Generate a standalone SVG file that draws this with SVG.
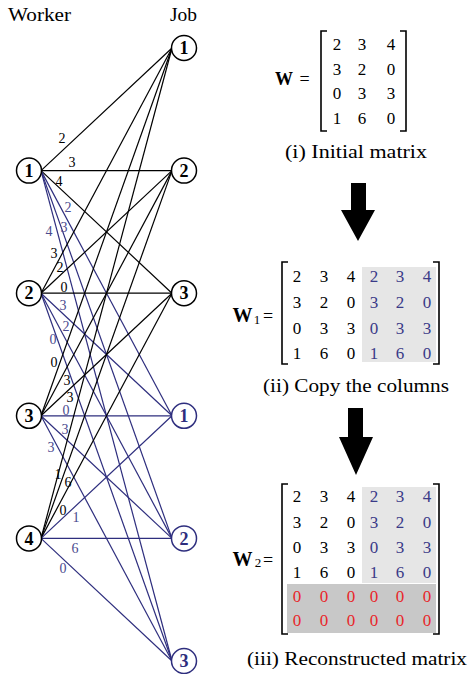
<svg xmlns="http://www.w3.org/2000/svg" width="469" height="674" viewBox="0 0 469 674" font-family="'Liberation Serif', 'DejaVu Serif', serif">
<style>
svg text{font-family:'Liberation Serif','DejaVu Serif',serif}
.hd{font-size:19px;fill:#000}
.nd{fill:#fff;stroke:#000;stroke-width:1.5}
.ndb{fill:#fff;stroke:#2e2e7e;stroke-width:1.5}
.nt{font-size:18px;font-weight:bold;text-anchor:middle;fill:#000}
.ntb{font-size:18px;font-weight:bold;text-anchor:middle;fill:#2e2e7e}
.e{stroke:#000;stroke-width:1.2;fill:none}
.eb{stroke:#2e2e7e;stroke-width:1.2;fill:none}
.lb{font-size:14px;text-anchor:middle;fill:#000}
.lbb{font-size:14px;text-anchor:middle;fill:#4a4a8e}
.m{font-size:17px;text-anchor:middle;fill:#000}
.mb{font-size:17px;text-anchor:middle;fill:#3a3a88}
.mr{font-size:17px;text-anchor:middle;fill:#e8262a}
.br{fill:none;stroke:#000;stroke-width:1.6}
.cap{font-size:18px;fill:#000}
.wb{font-weight:bold;fill:#000}
</style>

<text class="hd" x="8" y="21" textLength="63" lengthAdjust="spacingAndGlyphs">Worker</text>
<text class="hd" x="170" y="21" textLength="27" lengthAdjust="spacingAndGlyphs">Job</text>

<g id="connectors">
<line class="e" x1="41" y1="170.6" x2="172" y2="48"/>
<line class="e" x1="41" y1="170.6" x2="172" y2="170.6"/>
<line class="e" x1="41" y1="170.6" x2="172" y2="293.2"/>
<line class="eb" x1="41" y1="170.6" x2="172" y2="415.8"/>
<line class="eb" x1="41" y1="170.6" x2="172" y2="538.4"/>
<line class="eb" x1="41" y1="170.6" x2="172" y2="661"/>
<line class="e" x1="41" y1="293.2" x2="172" y2="48"/>
<line class="e" x1="41" y1="293.2" x2="172" y2="170.6"/>
<line class="e" x1="41" y1="293.2" x2="172" y2="293.2"/>
<line class="eb" x1="41" y1="293.2" x2="172" y2="415.8"/>
<line class="eb" x1="41" y1="293.2" x2="172" y2="538.4"/>
<line class="eb" x1="41" y1="293.2" x2="172" y2="661"/>
<line class="e" x1="41" y1="415.8" x2="172" y2="48"/>
<line class="e" x1="41" y1="415.8" x2="172" y2="170.6"/>
<line class="e" x1="41" y1="415.8" x2="172" y2="293.2"/>
<line class="eb" x1="41" y1="415.8" x2="172" y2="415.8"/>
<line class="eb" x1="41" y1="415.8" x2="172" y2="538.4"/>
<line class="eb" x1="41" y1="415.8" x2="172" y2="661"/>
<line class="e" x1="41" y1="538.4" x2="172" y2="48"/>
<line class="e" x1="41" y1="538.4" x2="172" y2="170.6"/>
<line class="e" x1="41" y1="538.4" x2="172" y2="293.2"/>
<line class="eb" x1="41" y1="538.4" x2="172" y2="415.8"/>
<line class="eb" x1="41" y1="538.4" x2="172" y2="538.4"/>
<line class="eb" x1="41" y1="538.4" x2="172" y2="661"/>
<text class="lb" x="62" y="143">2</text>
<text class="lb" x="72" y="167">3</text>
<text class="lb" x="59" y="186">4</text>
<text class="lbb" x="68" y="212">2</text>
<text class="lbb" x="64" y="232">3</text>
<text class="lbb" x="49" y="236">4</text>
<text class="lb" x="54" y="258">3</text>
<text class="lb" x="60" y="272">2</text>
<text class="lb" x="64" y="292">0</text>
<text class="lbb" x="63" y="310">3</text>
<text class="lbb" x="66" y="331">2</text>
<text class="lbb" x="53" y="344">0</text>
<text class="lb" x="54" y="367">0</text>
<text class="lb" x="67" y="385">3</text>
<text class="lb" x="70" y="402">3</text>
<text class="lbb" x="66" y="415">0</text>
<text class="lbb" x="65" y="434">3</text>
<text class="lbb" x="51" y="452">3</text>
<text class="lb" x="58" y="479">1</text>
<text class="lb" x="68" y="487">6</text>
<text class="lb" x="63" y="515">0</text>
<text class="lbb" x="76" y="522">1</text>
<text class="lbb" x="75" y="553">6</text>
<text class="lbb" x="63" y="573">0</text>
</g>

<g id="worker1"><circle class="nd" cx="29" cy="170.6" r="12.5"/><text class="nt" x="29" y="176.8">1</text></g>
<g id="worker2"><circle class="nd" cx="29" cy="293.2" r="12.5"/><text class="nt" x="29" y="299.4">2</text></g>
<g id="worker3"><circle class="nd" cx="29" cy="415.8" r="12.5"/><text class="nt" x="29" y="422">3</text></g>
<g id="worker4"><circle class="nd" cx="29" cy="538.4" r="12.5"/><text class="nt" x="29" y="544.6">4</text></g>

<g id="job1"><circle class="nd" cx="184" cy="48" r="12.5"/><text class="nt" x="184" y="54.2">1</text></g>
<g id="job2"><circle class="nd" cx="184" cy="170.6" r="12.5"/><text class="nt" x="184" y="176.8">2</text></g>
<g id="job3"><circle class="nd" cx="184" cy="293.2" r="12.5"/><text class="nt" x="184" y="299.4">3</text></g>
<g id="job1b"><circle class="ndb" cx="184" cy="415.8" r="12.5"/><text class="ntb" x="184" y="422">1</text></g>
<g id="job2b"><circle class="ndb" cx="184" cy="538.4" r="12.5"/><text class="ntb" x="184" y="544.6">2</text></g>
<g id="job3b"><circle class="ndb" cx="184" cy="661" r="12.5"/><text class="ntb" x="184" y="667.2">3</text></g>

<g id="matrixW">
<text class="wb" x="284" y="85" font-size="18" text-anchor="middle">W</text>
<text x="304.5" y="85" font-size="18" text-anchor="middle">=</text>
<path class="br" d="M327,31 H321 V131 H327"/>
<path class="br" d="M400,31 H406 V131 H400"/>
<text class="m" x="337" y="50">2</text><text class="m" x="362" y="50">3</text><text class="m" x="391" y="50">4</text>
<text class="m" x="337" y="74.5">3</text><text class="m" x="362" y="74.5">2</text><text class="m" x="391" y="74.5">0</text>
<text class="m" x="337" y="99">0</text><text class="m" x="362" y="99">3</text><text class="m" x="391" y="99">3</text>
<text class="m" x="337" y="124">1</text><text class="m" x="362" y="124">6</text><text class="m" x="391" y="124">0</text>
<text class="cap" x="285" y="158" textLength="142" lengthAdjust="spacingAndGlyphs">(i) Initial matrix</text>
</g>

<g id="arrow1"><polygon points="351,183 366,183 366,210 375,210 358,241 341,210 351,210" fill="#000"/></g>

<g id="matrixW1">
<rect x="362" y="267" width="74" height="95" fill="#e6e6e6"/>
<text class="wb" x="242.5" y="322" font-size="20" text-anchor="middle">W</text>
<text x="257" y="324" font-size="13" text-anchor="middle">1</text>
<text x="268" y="322" font-size="18" text-anchor="middle">=</text>
<path class="br" d="M288,262 H282 V364 H288"/>
<path class="br" d="M433,262 H439 V364 H433"/>
<text class="m" x="297" y="282">2</text><text class="m" x="324" y="282">3</text><text class="m" x="351" y="282">4</text>
<text class="mb" x="374" y="282">2</text><text class="mb" x="400" y="282">3</text><text class="mb" x="427" y="282">4</text>
<text class="m" x="297" y="308">3</text><text class="m" x="324" y="308">2</text><text class="m" x="351" y="308">0</text>
<text class="mb" x="374" y="308">3</text><text class="mb" x="400" y="308">2</text><text class="mb" x="427" y="308">0</text>
<text class="m" x="297" y="334">0</text><text class="m" x="324" y="334">3</text><text class="m" x="351" y="334">3</text>
<text class="mb" x="374" y="334">0</text><text class="mb" x="400" y="334">3</text><text class="mb" x="427" y="334">3</text>
<text class="m" x="297" y="359">1</text><text class="m" x="324" y="359">6</text><text class="m" x="351" y="359">0</text>
<text class="mb" x="374" y="359">1</text><text class="mb" x="400" y="359">6</text><text class="mb" x="427" y="359">0</text>
<text class="cap" x="263" y="392" textLength="186" lengthAdjust="spacingAndGlyphs">(ii) Copy the columns</text>
</g>

<g id="arrow2"><polygon points="348,408 363,408 363,437 373,437 356,475 339,437 348,437" fill="#000"/></g>

<g id="matrixW2">
<rect x="362" y="487" width="74" height="96" fill="#e6e6e6"/>
<rect x="287" y="584" width="149" height="49" fill="#c8c8c8"/>
<text class="wb" x="242.5" y="566" font-size="20" text-anchor="middle">W</text>
<text x="258" y="567" font-size="13" text-anchor="middle">2</text>
<text x="268" y="566" font-size="18" text-anchor="middle">=</text>
<path class="br" d="M288,484 H282 V634 H288"/>
<path class="br" d="M433,484 H439 V634 H433"/>
<text class="m" x="297" y="502">2</text><text class="m" x="324" y="502">3</text><text class="m" x="351" y="502">4</text>
<text class="mb" x="374" y="502">2</text><text class="mb" x="400" y="502">3</text><text class="mb" x="427" y="502">4</text>
<text class="m" x="297" y="527.5">3</text><text class="m" x="324" y="527.5">2</text><text class="m" x="351" y="527.5">0</text>
<text class="mb" x="374" y="527.5">3</text><text class="mb" x="400" y="527.5">2</text><text class="mb" x="427" y="527.5">0</text>
<text class="m" x="297" y="553">0</text><text class="m" x="324" y="553">3</text><text class="m" x="351" y="553">3</text>
<text class="mb" x="374" y="553">0</text><text class="mb" x="400" y="553">3</text><text class="mb" x="427" y="553">3</text>
<text class="m" x="297" y="578">1</text><text class="m" x="324" y="578">6</text><text class="m" x="351" y="578">0</text>
<text class="mb" x="374" y="578">1</text><text class="mb" x="400" y="578">6</text><text class="mb" x="427" y="578">0</text>
<text class="mr" x="297" y="602">0</text><text class="mr" x="324" y="602">0</text><text class="mr" x="351" y="602">0</text>
<text class="mr" x="374" y="602">0</text><text class="mr" x="400" y="602">0</text><text class="mr" x="427" y="602">0</text>
<text class="mr" x="297" y="626">0</text><text class="mr" x="324" y="626">0</text><text class="mr" x="351" y="626">0</text>
<text class="mr" x="374" y="626">0</text><text class="mr" x="400" y="626">0</text><text class="mr" x="427" y="626">0</text>
<text class="cap" x="247" y="665" textLength="220" lengthAdjust="spacingAndGlyphs">(iii) Reconstructed matrix</text>
</g>
</svg>
